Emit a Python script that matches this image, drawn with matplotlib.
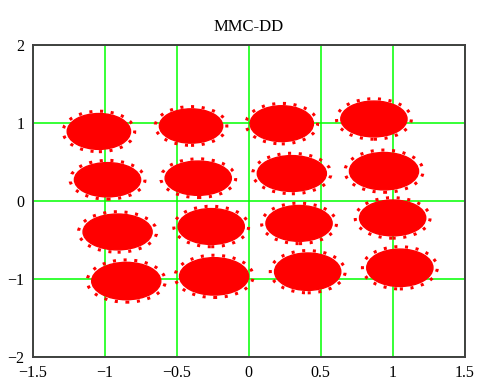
import matplotlib
matplotlib.use("Agg")
import matplotlib.pyplot as plt
from matplotlib.patches import Ellipse

# cluster centres and spreads (data units)
center_x = [-1.04, -0.40, 0.23, 0.87,
            -0.98, -0.35, 0.30, 0.94,
            -0.91, -0.26, 0.35, 1.00,
            -0.85, -0.24, 0.41, 1.05]
center_y = [0.89, 0.96, 0.99, 1.05,
            0.27, 0.29, 0.35, 0.38,
            -0.40, -0.33, -0.29, -0.22,
            -1.03, -0.97, -0.91, -0.86]
core_w = [0.44, 0.44, 0.44, 0.46,
          0.46, 0.46, 0.48, 0.48,
          0.48, 0.46, 0.46, 0.46,
          0.48, 0.48, 0.46, 0.46]
core_h = [0.46, 0.44, 0.46, 0.46,
          0.44, 0.44, 0.46, 0.48,
          0.46, 0.46, 0.46, 0.46,
          0.48, 0.48, 0.48, 0.48]
halo_scale = 1.13

xticks = [-1.5, -1, -0.5, 0, 0.5, 1, 1.5]
yticks = [-2, -1, 0, 1, 2]
title = "MMC-DD"

plt.rcParams['font.family'] = ['Liberation Serif', 'DejaVu Serif']

fig = plt.figure(figsize=(4.8, 3.81), dpi=100)
ax = fig.add_axes([0.068, 0.064, 0.900, 0.818])

for cx, cy, w, h in zip(center_x, center_y, core_w, core_h):
    # ragged outer fringe of the cloud
    halo = Ellipse((cx, cy), w * halo_scale, h * halo_scale, facecolor='none',
                   edgecolor='#ff0000', linewidth=2.2, linestyle=(0, (1, 2.5)),
                   zorder=3)
    ax.add_patch(halo)
    core = Ellipse((cx, cy), w, h, facecolor='#ff0000', edgecolor='#ff0000',
                   linewidth=1.0, zorder=4)
    ax.add_patch(core)

ax.set_xlim(-1.5, 1.5)
ax.set_ylim(-2, 2)
ax.set_xticks(xticks)
ax.set_yticks(yticks)
ax.set_xticklabels(['\u22121.5', '\u22121', '\u22120.5', '0', '0.5', '1', '1.5'])
ax.set_yticklabels(['\u22122', '\u22121', '0', '1', '2'])
ax.tick_params(length=0, labelsize=11.5, pad=6, colors='black')
ax.grid(True, color='#00ff00', linewidth=1.1, zorder=1)
ax.set_axisbelow(True)
for s in ax.spines.values():
    s.set_color('#404040')
    s.set_linewidth(1.4)
ax.set_title(title, fontsize=12, pad=10)

fig.savefig("out.png", dpi=100)
